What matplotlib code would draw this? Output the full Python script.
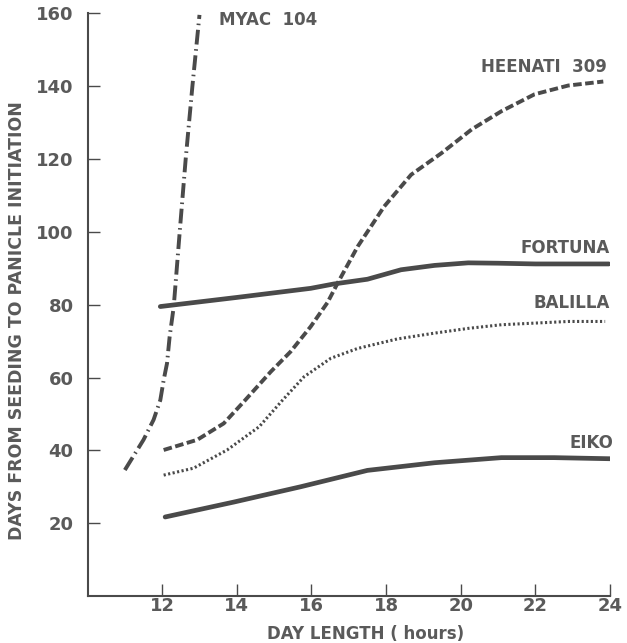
import matplotlib.pyplot as plt

# values
myac_x = [11.0, 11.5, 11.77, 11.95, 12.04, 12.13, 12.2, 12.31, 12.47, 12.63, 12.81, 13.0]
myac_y = [34.6, 42.9, 48.4, 53.8, 59.3, 63.9, 71.2, 79.5, 100.0, 120.0, 140.0, 159.6]

heenati_x = [12.04, 12.94, 13.65, 14.19, 14.91, 15.44, 15.98, 16.43, 16.7, 17.24,
             17.95, 18.67, 19.48, 20.3, 21.1, 21.98, 22.88, 23.82]
heenati_y = [40.1, 42.9, 47.4, 53.4, 61.6, 67.1, 74.0, 80.6, 85.9, 96.0,
             107.0, 115.7, 121.6, 128.2, 133.2, 137.8, 140.2, 141.3]

fortuna_x = [11.95, 14.0, 15.98, 16.6, 17.5, 18.4, 19.3, 20.2, 21.0, 22.0, 23.97]
fortuna_y = [79.5, 82.0, 84.5, 85.7, 87.0, 89.6, 90.8, 91.5, 91.4, 91.2, 91.2]

balilla_x = [12.04, 12.84, 13.74, 14.6, 15.2, 15.8, 16.52, 17.24, 18.3, 19.3, 20.2, 21.09, 22.88, 23.87]
balilla_y = [33.2, 35.1, 40.1, 46.5, 53.5, 60.2, 65.3, 68.0, 70.6, 72.2, 73.5, 74.5, 75.4, 75.4]

eiko_x = [12.08, 13.92, 15.71, 17.5, 19.3, 21.09, 22.5, 24.0]
eiko_y = [21.7, 25.8, 30.0, 34.5, 36.6, 38.0, 38.0, 37.7]

x_ticks = [12, 14, 16, 18, 20, 22, 24]
y_ticks = [20, 40, 60, 80, 100, 120, 140, 160]

line_col = '#4a4a4a'
text_col = '#5a5a5a'

fig = plt.figure(figsize=(6.27, 6.43), dpi=100)
ax = fig.add_axes([0.1396, 0.0731, 0.8333, 0.906])

ax.plot(myac_x, myac_y, color=line_col, lw=2.8, dashes=(3.8, 1.2, 0.4, 1.2))
ax.plot(heenati_x, heenati_y, color=line_col, lw=2.8, dashes=(2.2, 0.9))
ax.plot(fortuna_x, fortuna_y, color=line_col, lw=3.4, solid_capstyle='round')
ax.plot(balilla_x, balilla_y, color=line_col, lw=2.2, dashes=(0.7, 0.8))
ax.plot(eiko_x, eiko_y, color=line_col, lw=3.4, solid_capstyle='round')

lab = dict(color=text_col, fontsize=12, fontweight='bold')
ax.text(13.51, 158.2, 'MYAC  104', ha='left', va='center', **lab)
ax.text(23.91, 145.3, 'HEENATI  309', ha='right', va='center', **lab)
ax.text(23.99, 95.6, 'FORTUNA', ha='right', va='center', **lab)
ax.text(23.99, 80.5, 'BALILLA', ha='right', va='center', **lab)
ax.text(24.1, 42, 'EIKO', ha='right', va='center', **lab)

ax.set_xlim(10, 24)
ax.set_ylim(0, 160)
ax.set_xticks(x_ticks)
ax.set_yticks(y_ticks)
ax.spines['top'].set_visible(False)
ax.spines['right'].set_visible(False)
for s in ['left', 'bottom']:
    ax.spines[s].set_color(line_col)
    ax.spines[s].set_linewidth(1.5)
ax.tick_params(direction='in', length=8.5, width=1.0, color=line_col,
               labelcolor=text_col, labelsize=13)
ax.tick_params(axis='y', pad=10)
ax.tick_params(axis='x', pad=1)
for t in ax.get_xticklabels() + ax.get_yticklabels():
    t.set_fontweight('bold')

ax.set_xlabel('DAY LENGTH ( hours)', color=text_col, fontsize=12, fontweight='bold')
ax.xaxis.set_label_coords(0.533, -0.050)
ax.set_ylabel('DAYS FROM SEEDING TO PANICLE INITIATION', color=text_col,
              fontsize=12.5, fontweight='bold')
ax.yaxis.set_label_coords(-0.118, 0.473)

plt.savefig('out.png', dpi=100)
